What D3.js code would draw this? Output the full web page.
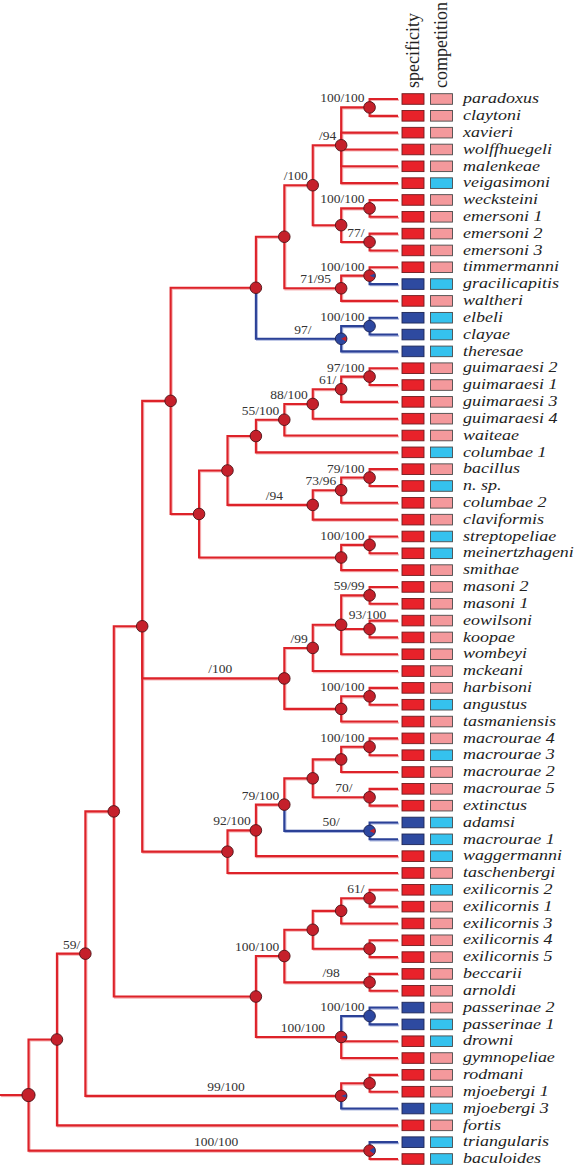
<!DOCTYPE html>
<html><head><meta charset="utf-8">
<script src="https://cdn.jsdelivr.net/npm/d3@7"></script>
<style>html,body{margin:0;padding:0;background:#fff;}svg{display:block;}</style>
</head><body>
<svg id="chart" width="578" height="1168"></svg>
<script>
// ---- DATA ----
// Topology (Newick). Internal labels = support values "ML/Bayes"; [x] = probability of the "blue" (specialist) state at the node.
const cladeGuim = "((((guimaraesi 2,guimaraesi 1)97/100,guimaraesi 3)61/,guimaraesi 4)88/100,waiteae)55/100";
const cladeColumbae = "(((bacillus,n. sp.)79/100,columbae 2)73/96,claviformis)/94";
const cladeStrepto = "((streptopeliae,meinertzhageni)100/100,smithae)";
const cladeParadoxus = "((paradoxus,claytoni)100/100,xavieri,wolffhuegeli,malenkeae,veigasimoni)/94";
const cladeEmersoni = "((wecksteini,emersoni 1)100/100,(emersoni 2,emersoni 3)77/)";
const cladeTimmer = "((timmermanni,gracilicapitis)100/100[0.12],waltheri)71/95";
const cladeElbeli = "((elbeli,clayae)100/100[1],theresae)97/[0.85]";
const cladeMasoni = "((((masoni 2,masoni 1)59/99,(eowilsoni,koopae)93/100,wombeyi),mckeani)/99,((harbisoni,angustus)100/100,tasmaniensis))/100";
const cladeMacrourae = "((((((macrourae 4,macrourae 3)100/100,macrourae 2),(macrourae 5,extinctus)70/),(adamsi,macrourae 1)50/[0.85])79/100,waggermanni)92/100,taschenbergi)";
const cladeExilicornis = "(((((exilicornis 2,exilicornis 1)61/,exilicornis 3),(exilicornis 4,exilicornis 5)),(beccarii,arnoldi)/98)100/100,((passerinae 2,passerinae 1)100/100[1],drowni,gymnopeliae)100/100[0.08])";
const cladeMjoebergi = "((rodmani,mjoebergi 1),mjoebergi 3)99/100[0.1]";
const cladeTriang = "(triangularis,baculoides)100/100[0.2]";

const topology =
  "(((((((((" + cladeParadoxus + "," + cladeEmersoni + ")/100," + cladeTimmer + ")," + cladeElbeli + ")," +
  "(((" + cladeGuim + ",columbae 1)," + cladeColumbae + ")," + cladeStrepto + "))," +
  cladeMasoni + "," + cladeMacrourae + ")," + cladeExilicornis + ")," + cladeMjoebergi + ")59/,fortis)," +
  cladeTriang + ");";

// Leaf traits in tip order (top to bottom)
// specificity: 1 = blue (high), 0 = red
const specificity = [0,0,0,0,0,0,0,0,0,0, 0,1,0,1,1,1,0,0,0,0, 0,0,0,0,0,0,0,0,0,0,
                     0,0,0,0,0,0,0,0,0,0, 0,0,0,1,1,0,0,0,0,0, 0,0,0,0,1,1,0,0,0,0,
                     1,0,1,0];
// competition: 1 = cyan, 0 = pink
const competition = [0,0,0,0,0,1,0,0,0,0, 0,1,0,1,1,1,0,0,0,0, 0,1,0,1,0,0,1,1,0,0,
                     0,0,0,0,0,0,1,0,0,1, 0,0,0,1,1,1,0,1,0,0, 0,0,0,0,0,1,1,0,0,0,
                     1,0,1,1];
const headers = ["specificity", "competition"];

// ---- PARSER ----
function parseNewick(s) {
  let i = 0;
  function node() {
    const n = {};
    if (s[i] === "(") {
      i++;
      n.children = [];
      while (true) {
        n.children.push(node());
        if (s[i] === ",") { i++; continue; }
        break;
      }
      i++; // ')'
    }
    let name = "";
    while (i < s.length && !",()[;".includes(s[i])) name += s[i++];
    if (s[i] === "[") {
      i++; let v = "";
      while (s[i] !== "]") v += s[i++];
      i++;
      n.blue = +v;
    }
    if (n.children) n.support = name; else n.name = name;
    return n;
  }
  return node();
}

// ---- LAYOUT ----
const svg = d3.select("#chart");
const root = d3.hierarchy(parseNewick(topology));
const leaves = root.leaves();
leaves.forEach((l, i) => { l.idx = i; l.data.blue = specificity[i]; });

const yScale = d3.scaleLinear().domain([0, leaves.length - 1]).range([99, 1159]);
const xScale = d3.scaleLinear().domain([0, root.height]).range([398, 28.5]);

root.eachAfter(n => {
  n.px = xScale(n.height);
  if (n.children) n.py = (n.children[0].py + n.children[n.children.length - 1].py) / 2;
  else n.py = yScale(n.idx);
  if (n.data.blue === undefined) n.data.blue = 0;
});

const RED = "#dd2229", RED_H = "#f6b3b5";
const BLUE = "#2b4197", BLUE_H = "#aab5de";

// ---- BRANCHES ----
const links = root.links();
const gH = svg.append("g").attr("transform", "translate(1.1,1.1)");
const gB = svg.append("g");
function elbow(l) {
  return `M${l.source.px},${l.source.py}V${l.target.py}H${l.target.px}`;
}
// root stem
gH.append("path").attr("d", `M0,${root.py}H${root.px}`).attr("fill","none").attr("stroke", RED_H).attr("stroke-width", 2);
gB.append("path").attr("d", `M0,${root.py}H${root.px}`).attr("fill","none").attr("stroke", RED).attr("stroke-width", 2.1);

const sortedLinks = links.slice().sort((a, b) => (a.target.data.blue > 0.5) - (b.target.data.blue > 0.5));
gH.selectAll("path.h").data(sortedLinks).join("path").attr("class","h")
  .attr("d", elbow).attr("fill", "none")
  .attr("stroke", d => d.target.data.blue > 0.5 ? BLUE_H : RED_H).attr("stroke-width", 2);
gB.selectAll("path.b").data(sortedLinks).join("path").attr("class","b")
  .attr("d", elbow).attr("fill", "none")
  .attr("stroke", d => d.target.data.blue > 0.5 ? BLUE : RED).attr("stroke-width", 2.1);

// ---- NODES ----
const inner = root.descendants().filter(d => d.children);
const NR = "#c5202b", NR_S = "#4d1216", NB = "#2d47a0", NB_S = "#1a2050";
const gN = svg.append("g");
inner.forEach(n => {
  const r = n === root ? 6.6 : 5.8;
  const b = n.data.blue;
  const g = gN.append("g").attr("transform", `translate(${n.px},${n.py})`);
  g.append("circle").attr("r", r).attr("fill", b > 0.5 ? NB : NR);
  const f = b > 0.5 ? 1 - b : b;
  if (f > 0.001) {
    g.append("path")
      .attr("d", d3.arc().innerRadius(0).outerRadius(r)({startAngle: Math.PI/2 - f*Math.PI, endAngle: Math.PI/2 + f*Math.PI}))
      .attr("fill", b > 0.5 ? NR : NB);
  }
  g.append("circle").attr("r", r).attr("fill", "none").attr("stroke", b > 0.5 ? NB_S : NR_S).attr("stroke-width", 0.9);
});

// ---- SUPPORT LABELS ----
const gS = svg.append("g").attr("font-family", "'Liberation Serif','Times New Roman',serif")
  .attr("font-size", 13.5).attr("fill", "#333");
inner.filter(n => n.data.support).forEach(n => {
  const t = gS.append("text").text(n.data.support);
  const w = t.node().getComputedTextLength();
  const p = n.parent;
  const sib = p.children;
  const k = sib.indexOf(n);
  const middle = k > 0 && k < sib.length - 1;
  const center = p.px + 0.55 * (n.px - p.px);
  const overflow = center + w / 2 > n.px - 6;
  if (overflow && middle && (n.px - 5 - w) < p.px + 3) {
    t.attr("x", n.px - 2).attr("y", n.py - 10.5).attr("text-anchor", "middle");
  } else {
    if (overflow) t.attr("x", n.px - 5).attr("text-anchor", "end");
    else t.attr("x", center).attr("text-anchor", "middle");
    t.attr("y", n.py - 5);
  }
});

// ---- TRAIT BOXES ----
const boxX = [402, 430.5], boxW = 22, boxH = 10.6;
const gT = svg.append("g");
gT.selectAll("rect.s").data(leaves).join("rect").attr("class","s")
  .attr("x", boxX[0]).attr("y", d => d.py - boxH/2).attr("width", boxW).attr("height", boxH)
  .attr("fill", d => specificity[d.idx] ? "#2e4aa0" : "#e8222a")
  .attr("stroke", d => specificity[d.idx] ? "#1d2656" : "#6e1b1e").attr("stroke-width", 0.9);
gT.selectAll("rect.c").data(leaves).join("rect").attr("class","c")
  .attr("x", boxX[1]).attr("y", d => d.py - boxH/2).attr("width", boxW).attr("height", boxH)
  .attr("fill", d => competition[d.idx] ? "#35c2ee" : "#f4999c")
  .attr("stroke", "#4a4a4a").attr("stroke-width", 0.9);

// headers
const gHd = svg.append("g").attr("font-family", "'Liberation Serif','Times New Roman',serif")
  .attr("font-size", 18).attr("fill", "#222");
headers.forEach((h, i) => {
  const x = boxX[i] + boxW / 2 + 5.5;
  gHd.append("text").attr("transform", `translate(${x},88) rotate(-90)`).text(h);
});

// leaf labels (slightly condensed height so rows don't collide, width kept to the reference)
svg.append("g").attr("font-family", "'Liberation Serif','Times New Roman',serif")
  .attr("font-style", "italic").attr("font-size", 15).attr("fill", "#222")
  .selectAll("text").data(leaves).join("text")
  .attr("transform", d => `translate(463,${d.py + 4.2}) scale(1.2,1)`)
  .text(d => d.data.name);
</script>
</body></html>
